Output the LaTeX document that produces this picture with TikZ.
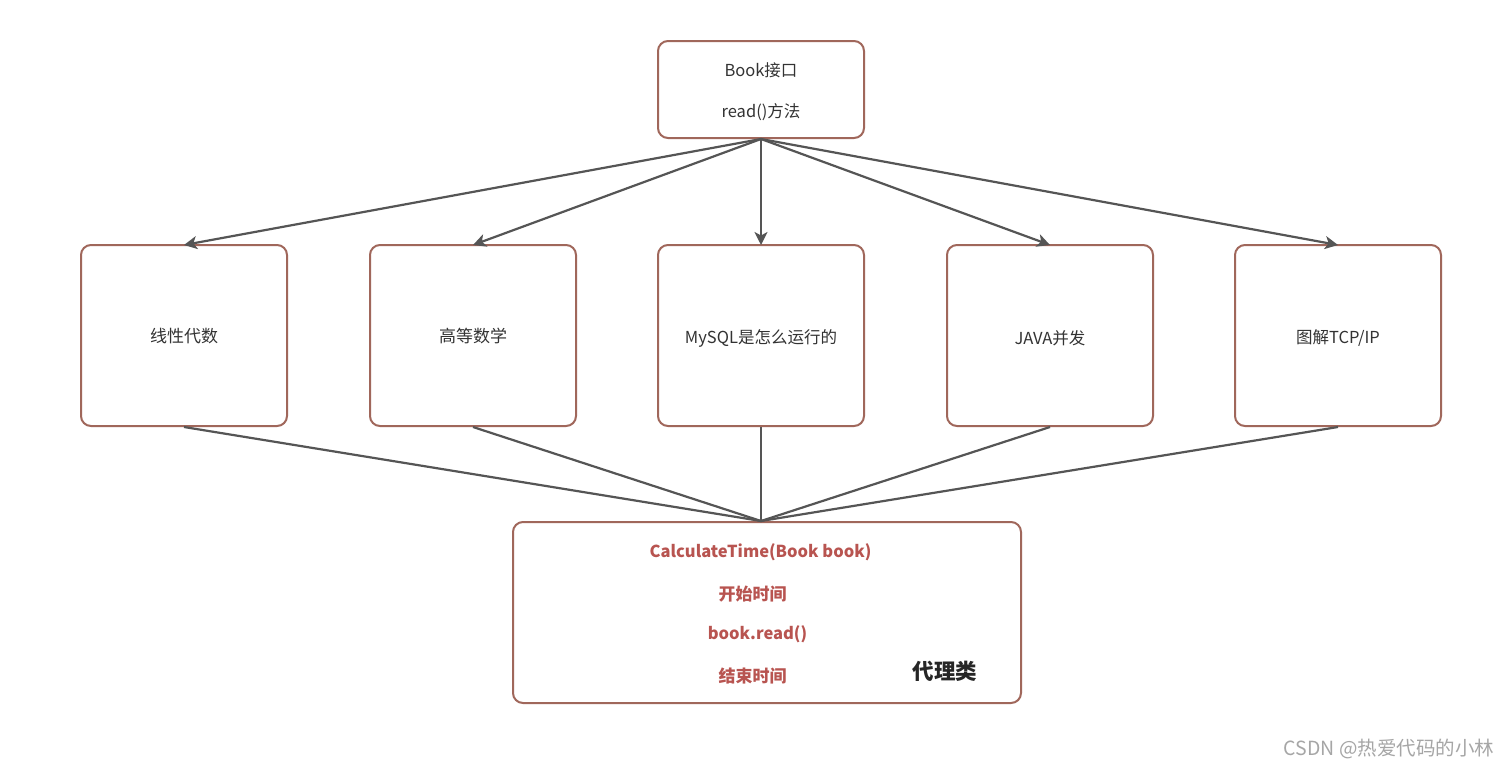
\documentclass[tikz,border=0pt]{standalone}
\usepackage{fontspec}
\setmainfont{Noto Sans CJK SC}
\usetikzlibrary{arrows.meta}
\definecolor{boxc}{HTML}{A0675B}
\definecolor{linec}{HTML}{555555}
\definecolor{redt}{HTML}{B85450}
\definecolor{txt}{HTML}{333333}
\begin{document}
\begin{tikzpicture}[x=1pt,y=-1pt,
  box/.style={draw=boxc, line width=2pt, rounded corners=10pt, fill=white,
    minimum width=206pt, inner sep=0pt, text=txt, font=\fontsize{16.5}{41}\selectfont, align=center},
  conn/.style={draw=linec, line width=2.2pt},
  arr/.style={conn, -{Stealth[length=13pt,width=13pt,inset=3.5pt]}},
  redline/.style={text=redt, font=\fontsize{16.5}{20}\selectfont\bfseries, inner sep=0pt}]
\useasboundingbox[fill=white] (0,0) rectangle (1510,769);
\node[box, minimum height=97pt] (top) at (761,89.5) {};
\node[text=txt, font=\fontsize{16.5}{41}\selectfont, align=center] (toptxt) at (761,91.5) {Book接口\\read()方法};
\node[box, minimum height=181pt] (b1) at (184,335.5) {};
\node[text=txt, font=\fontsize{17}{20}\selectfont] (t1) at (184,336) {线性代数};
\node[box, minimum height=181pt] (b2) at (473,335.5) {};
\node[text=txt, font=\fontsize{17}{20}\selectfont] (t2) at (473,336) {高等数学};
\node[box, minimum height=181pt] (b3) at (761,335.5) {};
\node[text=txt, font=\fontsize{16.5}{20}\selectfont] (t3) at (761,338) {MySQL是怎么运行的};
\node[box, minimum height=181pt] (b4) at (1050,335.5) {};
\node[text=txt, font=\fontsize{16.5}{20}\selectfont] (t4) at (1050,338) {JAVA并发};
\node[box, minimum height=181pt] (b5) at (1338,335.5) {};
\node[text=txt, font=\fontsize{16.5}{20}\selectfont] (t5) at (1338,338) {图解TCP/IP};
\node[box, minimum width=508pt, minimum height=181pt] (bot) at (767,612.5) {};
\node[redline] (l1) at (760.5,552.5) {CalculateTime(Book book)};
\node[redline, font=\fontsize{17}{20}\selectfont\bfseries] (l2) at (752.5,594) {开始时间};
\node[redline] (l3) at (757.5,634.5) {book.read()};
\node[redline, font=\fontsize{17}{20}\selectfont\bfseries] (l4) at (752.5,675.5) {结束时间};
\node[text=black!85, font=\fontsize{21.5}{25}\selectfont\bfseries, inner sep=0pt] (proxy) at (945,671) {代理类};
\node[text=black!35, font=\fontsize{19.5}{22}\selectfont, inner sep=0pt] (wm) at (1389,749) {CSDN @热爱代码的小林};
\foreach \b in {b1,b2,b3,b4,b5} {
  \draw[arr] (top.south) -- ([yshift=-1pt]\b.north);
  \draw[conn] (\b.south) -- ([xshift=-6pt]bot.north);
}
\end{tikzpicture}
\end{document}
